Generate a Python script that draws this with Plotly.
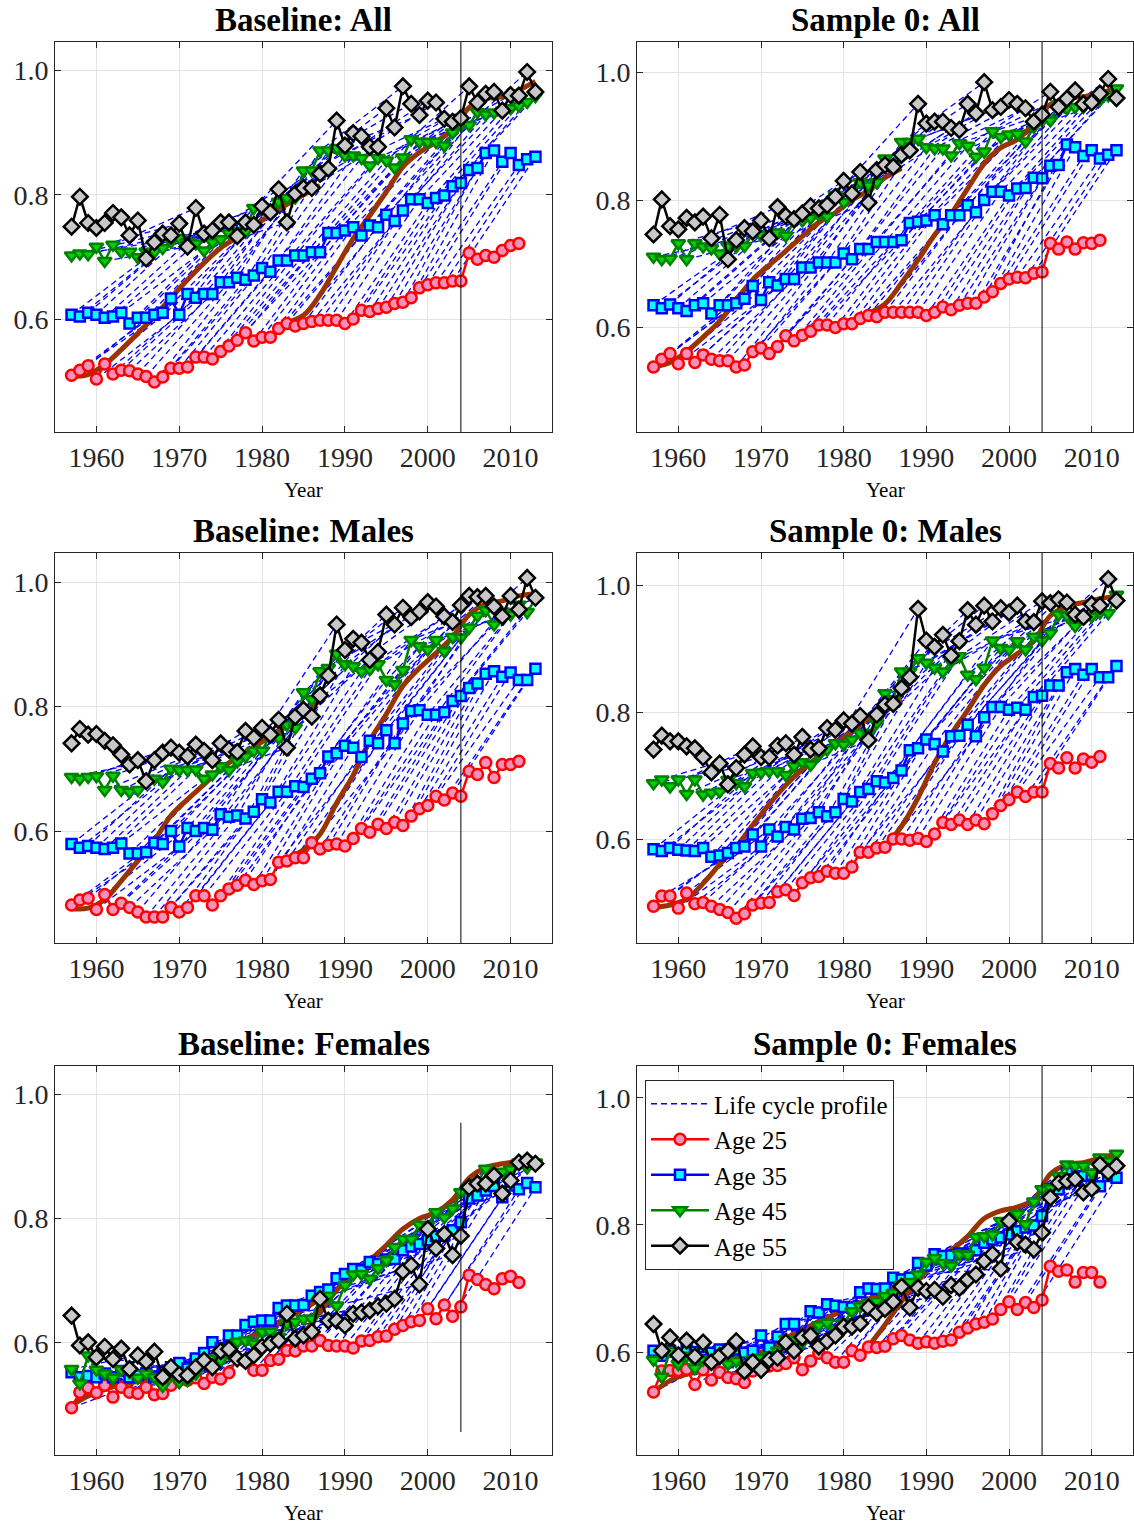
"""Life cycle profiles by age group: baseline vs sample 0, six panels."""

import plotly.graph_objects as go
from plotly.subplots import make_subplots

YEARS = list(range(1957, 2014))
BREAK_YEAR = 2004

# ---- Baseline: All ----
BASE_ALL_25 = [0.511, 0.519, 0.526, 0.505, 0.529, 0.513, 0.519, 0.518, 0.513, 0.509,
               0.500, 0.508, 0.522, 0.522, 0.524, 0.540, 0.540, 0.537, 0.549, 0.558,
               0.567, 0.579, 0.566, 0.572, 0.572, 0.586, 0.594, 0.590, 0.594, 0.597,
               0.599, 0.599, 0.599, 0.594, 0.601, 0.615, 0.613, 0.618, 0.620, 0.626,
               0.628, 0.635, 0.651, 0.656, 0.659, 0.659, 0.662, 0.662, 0.707, 0.697,
               0.703, 0.700, 0.711, 0.719, 0.722, None, None]
BASE_ALL_35 = [0.608, 0.605, 0.611, 0.608, 0.603, 0.605, 0.611, 0.594, 0.603, 0.603,
               0.608, 0.611, 0.634, 0.608, 0.641, 0.635, 0.641, 0.641, 0.660, 0.660,
               0.667, 0.664, 0.671, 0.683, 0.677, 0.695, 0.695, 0.703, 0.703, 0.708,
               0.708, 0.739, 0.739, 0.743, 0.748, 0.735, 0.751, 0.748, 0.768, 0.758,
               0.775, 0.793, 0.793, 0.787, 0.795, 0.799, 0.814, 0.819, 0.840, 0.843,
               0.867, 0.871, 0.853, 0.867, 0.848, 0.857, 0.861]
BASE_ALL_45 = [0.703, 0.706, 0.705, 0.717, 0.694, 0.720, 0.709, 0.709, 0.700, 0.709,
               0.709, 0.715, 0.725, 0.731, 0.724, 0.722, 0.711, 0.724, 0.729, 0.739,
               0.742, 0.741, 0.779, 0.779, 0.779, 0.789, 0.795, 0.796, 0.839, 0.839,
               0.871, 0.871, 0.875, 0.863, 0.863, 0.859, 0.847, 0.859, 0.855, 0.844,
               0.860, 0.889, 0.885, 0.885, 0.885, 0.879, 0.900, 0.912, 0.912, 0.933,
               0.929, 0.932, 0.935, 0.939, 0.943, 0.949, 0.958]
BASE_ALL_55 = [0.749, 0.797, 0.755, 0.747, 0.755, 0.771, 0.764, 0.735, 0.759, 0.698,
               0.724, 0.738, 0.735, 0.754, 0.717, 0.779, 0.738, 0.743, 0.756, 0.756,
               0.734, 0.756, 0.752, 0.782, 0.772, 0.809, 0.756, 0.802, 0.811, 0.811,
               0.834, 0.842, 0.919, 0.879, 0.899, 0.894, 0.877, 0.877, 0.939, 0.908,
               0.974, 0.946, 0.928, 0.951, 0.948, 0.922, 0.917, 0.923, 0.974, 0.948,
               0.962, 0.965, 0.935, 0.960, 0.959, 0.997, 0.965]

# ---- Sample 0: All ----
S0_ALL_25 = [0.538, 0.550, 0.559, 0.543, 0.559, 0.545, 0.557, 0.550, 0.548, 0.548,
             0.538, 0.541, 0.562, 0.568, 0.559, 0.570, 0.587, 0.579, 0.588, 0.594,
             0.604, 0.604, 0.600, 0.606, 0.606, 0.614, 0.619, 0.617, 0.624, 0.624,
             0.624, 0.624, 0.624, 0.619, 0.624, 0.632, 0.628, 0.635, 0.638, 0.638,
             0.648, 0.656, 0.669, 0.676, 0.679, 0.678, 0.685, 0.687, 0.732, 0.723,
             0.734, 0.723, 0.733, 0.732, 0.737, None, None]
S0_ALL_35 = [0.635, 0.630, 0.636, 0.630, 0.626, 0.635, 0.638, 0.622, 0.635, 0.635,
             0.638, 0.645, 0.665, 0.643, 0.671, 0.666, 0.676, 0.676, 0.694, 0.694,
             0.702, 0.702, 0.702, 0.716, 0.707, 0.723, 0.723, 0.734, 0.734, 0.734,
             0.737, 0.764, 0.766, 0.768, 0.776, 0.762, 0.776, 0.776, 0.792, 0.781,
             0.800, 0.813, 0.813, 0.807, 0.818, 0.819, 0.835, 0.834, 0.854, 0.855,
             0.887, 0.883, 0.869, 0.878, 0.865, 0.871, 0.878]
S0_ALL_45 = [0.711, 0.707, 0.708, 0.732, 0.707, 0.732, 0.727, 0.724, 0.716, 0.728,
             0.727, 0.728, 0.747, 0.745, 0.740, 0.749, 0.744, 0.766, 0.768, 0.772,
             0.777, 0.774, 0.808, 0.797, 0.808, 0.828, 0.823, 0.828, 0.865, 0.855,
             0.891, 0.891, 0.896, 0.883, 0.881, 0.881, 0.870, 0.889, 0.885, 0.868,
             0.876, 0.908, 0.899, 0.903, 0.904, 0.892, 0.915, 0.925, 0.925, 0.950,
             0.944, 0.946, 0.946, 0.954, 0.957, 0.964, 0.975]
S0_ALL_55 = [0.746, 0.801, 0.759, 0.754, 0.772, 0.765, 0.774, 0.740, 0.777, 0.707,
             0.737, 0.756, 0.751, 0.768, 0.740, 0.789, 0.775, 0.770, 0.779, 0.790,
             0.787, 0.792, 0.805, 0.830, 0.810, 0.844, 0.796, 0.847, 0.855, 0.852,
             0.871, 0.878, 0.951, 0.920, 0.923, 0.923, 0.913, 0.910, 0.951, 0.936,
             0.985, 0.941, 0.946, 0.957, 0.951, 0.944, 0.923, 0.934, 0.970, 0.946,
             0.959, 0.972, 0.951, 0.953, 0.967, 0.990, 0.960]

# ---- Baseline: Males ----
BASE_M_25 = [0.481, 0.489, 0.492, 0.474, 0.498, 0.474, 0.484, 0.477, 0.470, 0.462,
             0.462, 0.462, 0.477, 0.470, 0.477, 0.496, 0.496, 0.481, 0.496, 0.507,
             0.513, 0.521, 0.514, 0.520, 0.522, 0.550, 0.552, 0.557, 0.557, 0.581,
             0.571, 0.577, 0.579, 0.576, 0.588, 0.604, 0.598, 0.611, 0.604, 0.614,
             0.609, 0.624, 0.636, 0.641, 0.656, 0.650, 0.661, 0.656, 0.696, 0.691,
             0.710, 0.686, 0.707, 0.707, 0.712, None, None]
BASE_M_35 = [0.579, 0.573, 0.576, 0.573, 0.571, 0.573, 0.580, 0.564, 0.564, 0.566,
             0.581, 0.579, 0.600, 0.575, 0.605, 0.600, 0.605, 0.602, 0.627, 0.623,
             0.625, 0.620, 0.631, 0.651, 0.646, 0.663, 0.663, 0.672, 0.671, 0.684,
             0.693, 0.720, 0.725, 0.737, 0.734, 0.719, 0.745, 0.741, 0.762, 0.741,
             0.773, 0.793, 0.794, 0.787, 0.787, 0.791, 0.809, 0.817, 0.830, 0.837,
             0.853, 0.857, 0.848, 0.855, 0.843, 0.843, 0.861]
BASE_M_45 = [0.687, 0.684, 0.687, 0.688, 0.666, 0.689, 0.666, 0.663, 0.666, 0.679,
             0.684, 0.679, 0.700, 0.698, 0.698, 0.699, 0.684, 0.691, 0.704, 0.698,
             0.712, 0.720, 0.729, 0.729, 0.755, 0.750, 0.771, 0.766, 0.823, 0.812,
             0.857, 0.862, 0.885, 0.868, 0.865, 0.857, 0.860, 0.868, 0.843, 0.836,
             0.859, 0.907, 0.897, 0.892, 0.907, 0.889, 0.912, 0.911, 0.927, 0.946,
             0.955, 0.932, 0.953, 0.948, 0.964, 0.952, 0.973]
BASE_M_55 = [0.741, 0.764, 0.755, 0.756, 0.745, 0.738, 0.723, 0.707, 0.714, 0.680,
             0.714, 0.726, 0.734, 0.726, 0.720, 0.739, 0.729, 0.714, 0.741, 0.731,
             0.727, 0.761, 0.750, 0.766, 0.755, 0.779, 0.734, 0.784, 0.795, 0.784,
             0.818, 0.850, 0.932, 0.891, 0.909, 0.903, 0.875, 0.888, 0.948, 0.932,
             0.959, 0.944, 0.953, 0.968, 0.961, 0.945, 0.936, 0.963, 0.978, 0.976,
             0.978, 0.961, 0.945, 0.978, 0.956, 1.007, 0.975]

# ---- Sample 0: Males ----
S0_M_25 = [0.494, 0.510, 0.510, 0.491, 0.515, 0.498, 0.500, 0.494, 0.489, 0.484,
           0.475, 0.482, 0.496, 0.499, 0.500, 0.517, 0.520, 0.511, 0.531, 0.539,
           0.541, 0.549, 0.546, 0.546, 0.556, 0.579, 0.579, 0.586, 0.587, 0.600,
           0.600, 0.598, 0.601, 0.596, 0.608, 0.626, 0.623, 0.630, 0.623, 0.630,
           0.624, 0.640, 0.653, 0.662, 0.674, 0.667, 0.674, 0.674, 0.719, 0.712,
           0.728, 0.712, 0.726, 0.721, 0.730, None, None]
S0_M_35 = [0.584, 0.581, 0.586, 0.583, 0.582, 0.581, 0.586, 0.572, 0.574, 0.578,
           0.586, 0.588, 0.607, 0.588, 0.615, 0.604, 0.619, 0.615, 0.632, 0.633,
           0.642, 0.636, 0.642, 0.663, 0.659, 0.674, 0.679, 0.691, 0.689, 0.696,
           0.708, 0.740, 0.743, 0.757, 0.750, 0.738, 0.762, 0.763, 0.780, 0.762,
           0.792, 0.808, 0.808, 0.804, 0.807, 0.804, 0.824, 0.826, 0.842, 0.842,
           0.863, 0.868, 0.859, 0.868, 0.855, 0.855, 0.873]
S0_M_45 = [0.688, 0.694, 0.683, 0.694, 0.671, 0.694, 0.670, 0.673, 0.675, 0.693,
           0.688, 0.683, 0.704, 0.705, 0.707, 0.707, 0.701, 0.715, 0.721, 0.717,
           0.733, 0.741, 0.751, 0.749, 0.757, 0.767, 0.767, 0.783, 0.830, 0.820,
           0.864, 0.864, 0.885, 0.878, 0.870, 0.864, 0.880, 0.888, 0.859, 0.852,
           0.870, 0.913, 0.901, 0.899, 0.912, 0.899, 0.919, 0.913, 0.925, 0.954,
           0.952, 0.936, 0.951, 0.951, 0.957, 0.956, 0.985]
S0_M_55 = [0.741, 0.763, 0.754, 0.754, 0.746, 0.743, 0.729, 0.705, 0.719, 0.686,
           0.712, 0.733, 0.746, 0.729, 0.729, 0.747, 0.751, 0.733, 0.761, 0.741,
           0.743, 0.775, 0.772, 0.787, 0.782, 0.794, 0.756, 0.796, 0.812, 0.813,
           0.838, 0.855, 0.963, 0.913, 0.903, 0.922, 0.889, 0.912, 0.961, 0.938,
           0.968, 0.943, 0.964, 0.957, 0.968, 0.943, 0.942, 0.975, 0.972, 0.978,
           0.973, 0.954, 0.950, 0.970, 0.968, 1.010, 0.976]

# ---- Baseline: Females ----
BASE_F_25 = [0.496, 0.521, 0.528, 0.520, 0.532, 0.513, 0.529, 0.521, 0.519, 0.529,
             0.517, 0.519, 0.532, 0.540, 0.540, 0.544, 0.535, 0.545, 0.542, 0.552,
             0.575, 0.570, 0.556, 0.556, 0.572, 0.574, 0.588, 0.587, 0.595, 0.595,
             0.604, 0.596, 0.595, 0.595, 0.592, 0.603, 0.604, 0.610, 0.611, 0.622,
             0.628, 0.634, 0.636, 0.655, 0.639, 0.661, 0.643, 0.658, 0.709, 0.702,
             0.694, 0.687, 0.703, 0.707, 0.697, None, None]
BASE_F_35 = [0.553, 0.545, 0.547, 0.545, 0.551, 0.545, 0.555, 0.545, 0.548, 0.551,
             0.545, 0.553, 0.561, 0.568, 0.559, 0.575, 0.584, 0.601, 0.592, 0.612,
             0.612, 0.629, 0.634, 0.636, 0.636, 0.656, 0.660, 0.660, 0.661, 0.676,
             0.682, 0.686, 0.704, 0.711, 0.719, 0.717, 0.730, 0.727, 0.734, 0.735,
             0.749, 0.755, 0.759, 0.765, 0.772, 0.773, 0.781, 0.794, 0.832, 0.837,
             0.845, 0.852, 0.834, 0.853, 0.847, 0.857, 0.850]
BASE_F_45 = [0.558, 0.535, 0.580, 0.557, 0.551, 0.544, 0.557, 0.553, 0.544, 0.551,
             0.545, 0.531, 0.548, 0.537, 0.540, 0.551, 0.570, 0.575, 0.572, 0.583,
             0.602, 0.604, 0.599, 0.618, 0.618, 0.610, 0.631, 0.634, 0.639, 0.639,
             0.671, 0.676, 0.660, 0.693, 0.710, 0.711, 0.703, 0.720, 0.733, 0.754,
             0.767, 0.767, 0.790, 0.789, 0.810, 0.802, 0.816, 0.842, 0.850, 0.858,
             0.880, 0.869, 0.875, 0.879, 0.890, 0.882, 0.890]
BASE_F_55 = [0.644, 0.596, 0.601, 0.577, 0.594, 0.574, 0.591, 0.558, 0.580, 0.570,
             0.586, 0.545, 0.561, 0.549, 0.548, 0.561, 0.572, 0.561, 0.587, 0.590,
             0.575, 0.571, 0.580, 0.594, 0.599, 0.604, 0.647, 0.607, 0.612, 0.618,
             0.671, 0.636, 0.636, 0.628, 0.647, 0.649, 0.652, 0.659, 0.663, 0.671,
             0.715, 0.725, 0.694, 0.783, 0.752, 0.775, 0.741, 0.772, 0.850, 0.856,
             0.856, 0.869, 0.840, 0.861, 0.890, 0.893, 0.888]

# ---- Sample 0: Females ----
S0_F_25 = [0.537, 0.570, 0.571, 0.571, 0.573, 0.549, 0.572, 0.556, 0.568, 0.560,
           0.558, 0.552, 0.570, 0.575, 0.578, 0.579, 0.582, 0.591, 0.572, 0.586,
           0.598, 0.591, 0.584, 0.584, 0.602, 0.595, 0.608, 0.607, 0.609, 0.621,
           0.626, 0.619, 0.614, 0.616, 0.614, 0.617, 0.619, 0.631, 0.638, 0.644,
           0.647, 0.652, 0.667, 0.679, 0.667, 0.678, 0.670, 0.682, 0.735, 0.727,
           0.729, 0.710, 0.725, 0.725, 0.710, None, None]
S0_F_35 = [0.602, 0.594, 0.602, 0.595, 0.604, 0.600, 0.608, 0.599, 0.604, 0.602,
           0.604, 0.599, 0.602, 0.626, 0.607, 0.624, 0.644, 0.644, 0.625, 0.664,
           0.662, 0.675, 0.673, 0.671, 0.670, 0.694, 0.700, 0.699, 0.700, 0.717,
           0.714, 0.717, 0.740, 0.736, 0.754, 0.751, 0.752, 0.755, 0.754, 0.760,
           0.772, 0.777, 0.780, 0.785, 0.790, 0.796, 0.799, 0.814, 0.856, 0.856,
           0.882, 0.872, 0.877, 0.879, 0.861, 0.877, 0.874]
S0_F_45 = [0.588, 0.561, 0.602, 0.581, 0.594, 0.575, 0.588, 0.588, 0.591, 0.581,
           0.586, 0.578, 0.588, 0.591, 0.594, 0.602, 0.620, 0.619, 0.615, 0.626,
           0.642, 0.646, 0.636, 0.646, 0.664, 0.672, 0.677, 0.680, 0.688, 0.693,
           0.706, 0.710, 0.722, 0.742, 0.748, 0.740, 0.736, 0.754, 0.753, 0.781,
           0.782, 0.785, 0.806, 0.804, 0.817, 0.801, 0.837, 0.856, 0.858, 0.877,
           0.895, 0.893, 0.893, 0.882, 0.906, 0.900, 0.912]
S0_F_55 = [0.644, 0.602, 0.623, 0.595, 0.618, 0.593, 0.615, 0.584, 0.594, 0.602,
           0.617, 0.570, 0.584, 0.572, 0.588, 0.591, 0.615, 0.602, 0.623, 0.626,
           0.609, 0.617, 0.626, 0.640, 0.640, 0.645, 0.670, 0.661, 0.668, 0.679,
           0.703, 0.670, 0.701, 0.696, 0.698, 0.687, 0.705, 0.701, 0.714, 0.722,
           0.743, 0.754, 0.731, 0.806, 0.773, 0.769, 0.761, 0.788, 0.843, 0.866,
           0.869, 0.872, 0.851, 0.857, 0.895, 0.883, 0.893]

# highlighted cohort profiles (brown): age 25 in 1957 and age 25 in 1983
COHORT_A_YEARS = list(range(1957, 1988, 2))
COHORT_B_YEARS = list(range(1983, 2014, 2))
BASE_ALL_A = [0.509, 0.512, 0.528, 0.552, 0.578, 0.605, 0.635, 0.664, 0.691, 0.715,
              0.732, 0.750, 0.768, 0.785, 0.800, 0.815]
BASE_ALL_B = [0.595, 0.607, 0.640, 0.685, 0.730, 0.767, 0.805, 0.845, 0.868, 0.885,
              0.905, 0.940, 0.954, 0.957, 0.968, 0.982]
S0_ALL_A = [0.538, 0.545, 0.562, 0.585, 0.610, 0.643, 0.675, 0.698, 0.720, 0.743,
            0.765, 0.780, 0.800, 0.815, 0.835, 0.850]
S0_ALL_B = [0.622, 0.637, 0.670, 0.706, 0.745, 0.778, 0.818, 0.857, 0.882, 0.895,
            0.920, 0.950, 0.960, 0.962, 0.968, 0.975]
BASE_M_A = [0.475, 0.476, 0.490, 0.520, 0.552, 0.585, 0.625, 0.651, 0.675, 0.700,
            0.718, 0.735, 0.752, 0.770, 0.790, 0.810]
BASE_M_B = [0.555, 0.570, 0.595, 0.645, 0.690, 0.745, 0.788, 0.833, 0.862, 0.886,
            0.912, 0.948, 0.965, 0.970, 0.978, 0.982]
S0_M_A = [0.492, 0.496, 0.505, 0.530, 0.560, 0.588, 0.622, 0.655, 0.685, 0.710,
          0.730, 0.750, 0.770, 0.790, 0.805, 0.820]
S0_M_B = [0.580, 0.590, 0.620, 0.665, 0.720, 0.765, 0.803, 0.843, 0.873, 0.892,
          0.912, 0.952, 0.967, 0.973, 0.979, 0.983]
BASE_F_A = [0.500, 0.515, 0.525, 0.533, 0.538, 0.540, 0.545, 0.552, 0.565, 0.580,
            0.597, 0.612, 0.625, 0.640, 0.655, 0.670]
BASE_F_B = [0.590, 0.615, 0.650, 0.685, 0.712, 0.733, 0.757, 0.783, 0.800, 0.810,
            0.830, 0.865, 0.882, 0.888, 0.892, 0.895]
S0_F_A = [0.537, 0.555, 0.565, 0.572, 0.585, 0.590, 0.595, 0.605, 0.622, 0.635,
          0.648, 0.660, 0.672, 0.683, 0.695, 0.705]
S0_F_B = [0.609, 0.643, 0.680, 0.712, 0.742, 0.760, 0.782, 0.810, 0.822, 0.828,
          0.840, 0.880, 0.895, 0.898, 0.905, 0.912]

PANEL_TITLES = ["Baseline: All", "Sample 0: All", "Baseline: Males",
                "Sample 0: Males", "Baseline: Females", "Sample 0: Females"]
PANEL_YRANGES = [[0.42, 1.045], [0.436, 1.048], [0.42, 1.047],
                 [0.436, 1.051], [0.42, 1.045], [0.438, 1.05]]

FONT = "Liberation Serif, Times New Roman, serif"
AXIS_COLOR = "#262626"
GRID_COLOR = "#e3e3e3"
BROWN = "#993300"

AGE_STYLES = [
    ("Age 25", "#ff0000", "circle", "#f590ba", 11),
    ("Age 35", "#0000ff", "square", "#00ffff", 10),
    ("Age 45", "#008000", "triangle-down", "#00d400", 12),
    ("Age 55", "#000000", "diamond", "#c8c8c8", 12),
]


def profile_lines(series):
    """Join each cohort's observed values at ages 25, 35, 45, 55."""
    xs, ys = [], []
    for start in range(YEARS[0] - 30, YEARS[-1] + 1):
        pts = []
        for k, values in enumerate(series):
            yr = start + 10 * k
            if YEARS[0] <= yr <= YEARS[-1]:
                v = values[yr - YEARS[0]]
                if v is not None:
                    pts.append((yr, v))
        if len(pts) >= 2:
            xs += [p[0] for p in pts] + [None]
            ys += [p[1] for p in pts] + [None]
    return xs, ys


panels = [
    ((BASE_ALL_25, BASE_ALL_35, BASE_ALL_45, BASE_ALL_55), BASE_ALL_A, BASE_ALL_B),
    ((S0_ALL_25, S0_ALL_35, S0_ALL_45, S0_ALL_55), S0_ALL_A, S0_ALL_B),
    ((BASE_M_25, BASE_M_35, BASE_M_45, BASE_M_55), BASE_M_A, BASE_M_B),
    ((S0_M_25, S0_M_35, S0_M_45, S0_M_55), S0_M_A, S0_M_B),
    ((BASE_F_25, BASE_F_35, BASE_F_45, BASE_F_55), BASE_F_A, BASE_F_B),
    ((S0_F_25, S0_F_35, S0_F_45, S0_F_55), S0_F_A, S0_F_B),
]

fig = make_subplots(rows=3, cols=2)

W, H = 1134, 1527
COL_PX = [(55, 552), (637, 1133)]
ROW_PX = [(42, 432), (553, 943), (1066, 1455)]

for i, (series, coh_a, coh_b) in enumerate(panels):
    row, col = i // 2 + 1, i % 2 + 1
    legend_on = i == 5

    px, py = profile_lines(series)
    fig.add_trace(go.Scatter(
        x=px, y=py, mode="lines", name="Life cycle profile",
        line={"color": "#0000ff", "width": 1.3, "dash": "6px,4px"},
        showlegend=legend_on, hoverinfo="skip",
    ), row=row, col=col)

    for yrs, vals in ((COHORT_A_YEARS, coh_a), (COHORT_B_YEARS, coh_b)):
        fig.add_trace(go.Scatter(
            x=yrs, y=vals, mode="lines", line={"color": BROWN, "width": 5, "shape": "spline"},
            showlegend=False, hoverinfo="skip",
        ), row=row, col=col)

    for values, (name, color, symbol, fill, size) in zip(series, AGE_STYLES):
        fig.add_trace(go.Scatter(
            x=YEARS, y=values, mode="lines+markers", name=name,
            line={"color": color, "width": 2.5},
            marker={"symbol": symbol, "size": size, "color": fill,
                    "line": {"color": color, "width": 2.5}},
            showlegend=legend_on,
        ), row=row, col=col)

    xa = "x" if i == 0 else f"x{i + 1}"
    ya = "y" if i == 0 else f"y{i + 1}"
    x0, x1 = COL_PX[col - 1]
    y0, y1 = ROW_PX[row - 1]
    fig.update_xaxes(domain=[x0 / W, x1 / W], row=row, col=col)
    fig.update_yaxes(domain=[1 - y1 / H, 1 - y0 / H], range=PANEL_YRANGES[i], row=row, col=col)

    # vertical break line (shorter in the baseline female panel)
    if i == 4:
        fig.add_shape(type="line", xref=xa, yref=ya, x0=BREAK_YEAR, x1=BREAK_YEAR,
                      y0=0.457, y1=0.954, line={"color": "black", "width": 1})
    else:
        fig.add_shape(type="line", xref=xa, yref=f"{ya} domain", x0=BREAK_YEAR, x1=BREAK_YEAR,
                      y0=0, y1=1, line={"color": "black", "width": 1})

    cx = (x0 + x1) / 2 / W
    fig.add_annotation(text=f"<b>{PANEL_TITLES[i]}</b>", x=cx, y=1 - (y0 - 22) / H,
                       xref="paper", yref="paper", showarrow=False,
                       xanchor="center", yanchor="middle",
                       font={"size": 33, "color": "black", "family": FONT})
    fig.add_annotation(text="Year", x=cx, y=1 - (y1 + 58) / H,
                       xref="paper", yref="paper", showarrow=False,
                       xanchor="center", yanchor="middle",
                       font={"size": 21, "color": "black", "family": FONT})

fig.update_xaxes(
    range=[1955, 2015], tickvals=[1960, 1970, 1980, 1990, 2000, 2010],
    showgrid=True, gridcolor=GRID_COLOR, gridwidth=1, zeroline=False,
    showline=True, linecolor=AXIS_COLOR, linewidth=1, mirror="ticks",
    ticks="inside", ticklen=6, tickcolor=AXIS_COLOR,
    tickfont={"size": 28, "color": "#262626", "family": FONT},
)
fig.update_yaxes(
    tickvals=[0.6, 0.8, 1.0], tickformat=".1f",
    showgrid=True, gridcolor=GRID_COLOR, gridwidth=1, zeroline=False,
    showline=True, linecolor=AXIS_COLOR, linewidth=1, mirror="ticks",
    ticks="inside", ticklen=6, tickcolor=AXIS_COLOR,
    tickfont={"size": 28, "color": "#262626", "family": FONT},
)

fig.update_layout(
    width=W, height=H,
    margin={"l": 0, "r": 0, "t": 0, "b": 0},
    paper_bgcolor="white", plot_bgcolor="white",
    font={"family": FONT, "color": "black"},
    legend={"x": 645 / W, "y": 1 - 1080 / H, "xanchor": "left", "yanchor": "top",
            "bgcolor": "white", "bordercolor": AXIS_COLOR, "borderwidth": 1,
            "font": {"size": 25, "family": FONT, "color": "black"},
            "tracegroupgap": 0, "itemwidth": 58},
)

# the page body has a default margin; drop it so the figure sits at the window origin
fig.write_html("out.html", config={"displayModeBar": False},
               post_script="document.body.style.margin='0';")
